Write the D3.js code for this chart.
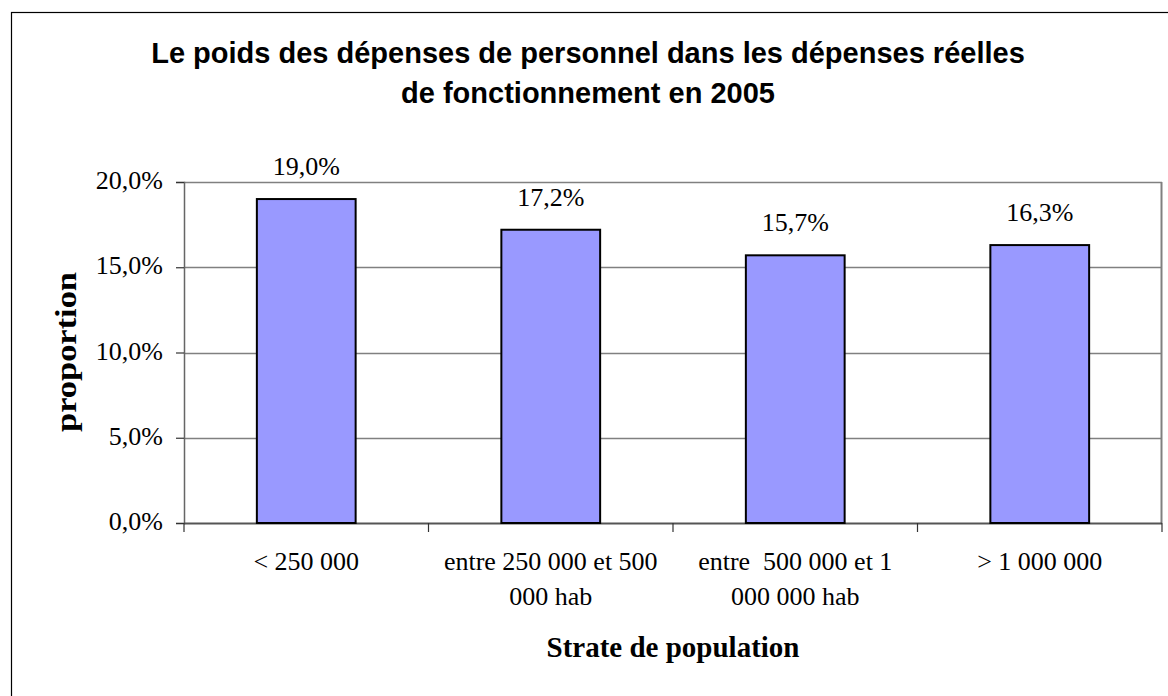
<!DOCTYPE html>
<html>
<head>
<meta charset="utf-8">
<script src="https://cdn.jsdelivr.net/npm/d3@7"></script>
<style>
    body { margin: 0; background: #fff; }
    text { font-family: "Liberation Serif", "Times New Roman", serif; }
</style>
</head>
<body>
<div id="chart"></div>
<script>
var titleLines = ["Le poids des dépenses de personnel dans les dépenses réelles",
                  "de fonctionnement en 2005"];
var categories = ["< 250 000", "entre 250 000 et 500 000 hab",
                  "entre  500 000 et 1 000 000 hab", "> 1 000 000"];
var values = [0.190, 0.172, 0.157, 0.163];
var yTicks = [0, 0.05, 0.10, 0.15, 0.20];
var yLabel = "proportion";
var xLabel = "Strate de population";

var width = 1168;
var height = 696;
var padding = {
    left: 184,
    right: 6,
    top: 182,
    bottom: 173
}

var canvasWidth = width - padding.left - padding.right;
var canvasHeight = height - padding.top - padding.bottom;

var fmt = function(d){ return d3.format(".1%")(d).replace(".", ","); };

var root = d3.select('#chart')
            .append('svg')
                .attr("width", width)
                .attr("height", height);

// outer frame (right/bottom fall outside the picture)
root.append("rect")
    .attr("x", 11.5)
    .attr("y", 12.5)
    .attr("width", 1300)
    .attr("height", 800)
    .attr("fill", "none")
    .attr("stroke", "black")
    .attr("stroke-width", 1.2);

root.append("text")
    .attr("text-anchor", "middle")
    .style("font-family", "'Liberation Sans', Arial, sans-serif")
    .style("font-weight", "bold")
    .style("font-size", "29px")
    .selectAll("tspan")
    .data(titleLines)
    .enter()
    .append("tspan")
        .attr("x", 588)
        .attr("y", function(d, i){ return 63 + i * 40; })
        .text(function(d){ return d; });

var svg = root.append("g")
            .attr("transform", "translate(" + padding.left + "," + padding.top + ")");

var xScale = d3.scaleBand()
                .domain(categories)
                .range([0, canvasWidth])
                .paddingInner(0.596)
                .paddingOuter(0.298);

var xEdges = d3.scaleLinear()
                .domain([0, categories.length])
                .range([0, canvasWidth]);

var yScale = d3.scaleLinear()
                .domain([0, 0.20])
                .range([canvasHeight, 0]);

// gridlines
svg.selectAll(".grid")
    .data(yTicks.slice(1))
    .enter()
    .append("line")
        .attr("x1", 0)
        .attr("x2", canvasWidth)
        .attr("y1", function(d){ return Math.round(yScale(d)) + 0.5; })
        .attr("y2", function(d){ return Math.round(yScale(d)) + 0.5; })
        .attr("stroke", "#808080")
        .attr("stroke-width", 1.5);

// right edge of plot area
svg.append("line")
    .attr("x1", canvasWidth - 0.5)
    .attr("x2", canvasWidth - 0.5)
    .attr("y1", 0)
    .attr("y2", canvasHeight)
    .attr("stroke", "#808080")
    .attr("stroke-width", 2);

// y axis
var yAxis = svg.append("g")
    .call(d3.axisLeft(yScale).tickValues(yTicks).tickSize(8).tickFormat(fmt));
yAxis.select(".domain").attr("stroke", "#666").attr("stroke-width", 1.5);
yAxis.selectAll(".tick line").attr("stroke", "#333").attr("stroke-width", 1.2);
yAxis.selectAll(".tick text")
    .attr("x", -21)
    .attr("dy", "0.25em")
    .style("font-size", "26px")
    .style("font-family", "'Liberation Serif', serif")
    .attr("fill", "#000");

// x axis
var xAxis = svg.append("g")
    .attr("transform", "translate(0," + canvasHeight + ")");
xAxis.append("line")
    .attr("x1", 0)
    .attr("x2", canvasWidth)
    .attr("y1", 0.5)
    .attr("y2", 0.5)
    .attr("stroke", "#555")
    .attr("stroke-width", 2);
xAxis.selectAll(".xtick")
    .data(d3.range(categories.length + 1))
    .enter()
    .append("line")
        .attr("x1", function(d){ return xEdges(d); })
        .attr("x2", function(d){ return xEdges(d); })
        .attr("y1", 0)
        .attr("y2", 9)
        .attr("stroke", "#333")
        .attr("stroke-width", 1.2);

var catText = xAxis.selectAll(".cat")
    .data(categories)
    .enter()
    .append("text")
        .attr("class", "cat")
        .attr("text-anchor", "middle")
        .style("font-size", "26px")
        .style("white-space", "pre")
        .attr("transform", function(d){
            return "translate(" + (xScale(d) + xScale.bandwidth() / 2) + ",47)";
        });

// wrap category labels to the band width
catText.each(function(d){
    var el = d3.select(this);
    var words = d.split(" ");
    var lines = [];
    var line = "";
    var probe = el.append("tspan");
    words.forEach(function(w){
        var test = line === "" ? w : line + " " + w;
        probe.text(test);
        if (probe.node().getComputedTextLength() > 232 && line !== ""){
            lines.push(line);
            line = w;
        } else {
            line = test;
        }
    });
    lines.push(line);
    probe.remove();
    el.selectAll("tspan")
        .data(lines)
        .enter()
        .append("tspan")
            .attr("x", 0)
            .attr("y", function(l, i){ return i * 35; })
            .text(function(l){ return l; });
});

// bars
svg.selectAll(".bar")
    .data(values)
    .enter()
    .append("rect")
        .attr("class", "bar")
        .attr("fill", "#9999ff")
        .attr("stroke", "black")
        .attr("stroke-width", 2)
        .attr("x", function(d, i){ return xScale(categories[i]); })
        .attr("y", function(d){ return yScale(d); })
        .attr("width", xScale.bandwidth())
        .attr("height", function(d){ return canvasHeight - yScale(d); });

// value labels
svg.selectAll(".val")
    .data(values)
    .enter()
    .append("text")
        .attr("class", "val")
        .attr("text-anchor", "middle")
        .style("font-size", "26px")
        .attr("x", function(d, i){ return xScale(categories[i]) + xScale.bandwidth() / 2; })
        .attr("y", function(d){ return yScale(d) - 24; })
        .text(fmt);

// axis titles
root.append("text")
    .attr("text-anchor", "middle")
    .style("font-size", "29px")
    .style("font-weight", "bold")
    .attr("x", padding.left + canvasWidth / 2)
    .attr("y", 657)
    .text(xLabel);

root.append("text")
    .attr("text-anchor", "middle")
    .style("font-size", "30px")
    .style("font-weight", "bold")
    .attr("textLength", 160)
    .attr("lengthAdjust", "spacingAndGlyphs")
    .attr("transform", "translate(76,352) rotate(-90)")
    .text(yLabel);
</script>
</body>
</html>
